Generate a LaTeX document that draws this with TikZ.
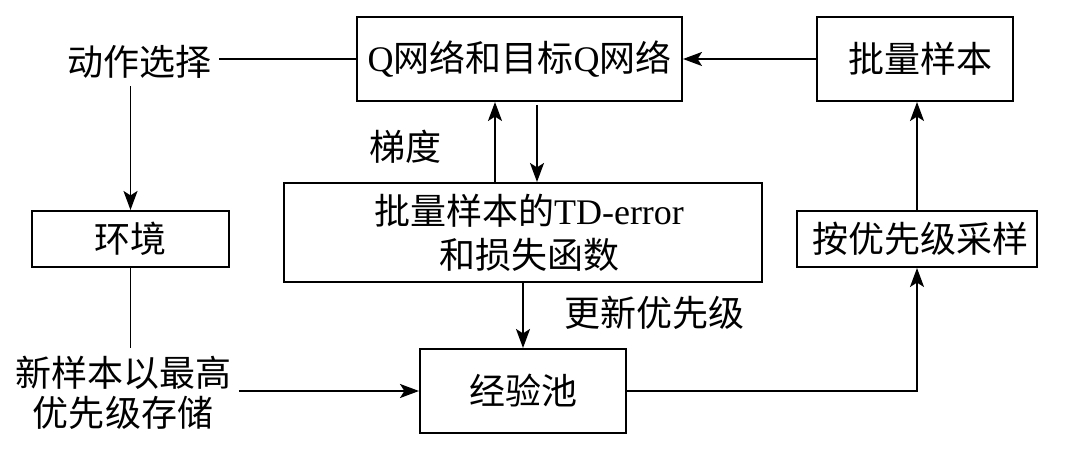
\documentclass[tikz,border=0pt]{standalone}
\usepackage{fontspec}
\setmainfont{Liberation Serif}
\newfontfamily\cjk{Noto Sans CJK SC}
\usetikzlibrary{arrows.meta}

\begin{document}
\begin{tikzpicture}[
    x=0.5pt, y=-0.5pt,
    font=\fontsize{18}{22}\selectfont,
    line width=0.9pt,
    box/.style 2 args={draw, line width=1pt, minimum width=#1, minimum height=#2,
                       inner sep=0pt, align=center},
    lbl/.style={inner sep=3.5pt, align=center},
    arr/.style={-{Stealth[length=9.5pt, width=7pt, inset=2.2pt]}}
]
\useasboundingbox (0,0) rectangle (1085,458);

% boxes
\node[box={162.5pt}{42pt}]   (q)     at (519.5,59)  {Q{\cjk 网络和目标}Q{\cjk 网络}};
\node[box={98pt}{42pt}]      (batch) at (915,59)    {\hspace{5pt}{\cjk 批量样本}};
\node[box={98.5pt}{28pt}]    (env)   at (130.5,239) {{\cjk 环境}};
\node[box={239pt}{49.5pt}]   (td)    at (523,232.5) {\hspace{6pt}{\cjk 批量样本的}TD-error\\\hspace{6pt}{\cjk 和损失函数}};
\node[box={120pt}{28pt}]     (prio)  at (917,239)   {\hspace{3pt}{\cjk 按优先级采样}};
\node[box={103pt}{42pt}]     (pool)  at (523,391)   {{\cjk 经验池}};

% free labels
\node[lbl] (act)   at (139,62)  {{\cjk 动作选择}};
\node[lbl] (grad)  at (405,147) {{\cjk 梯度}};
\node[lbl] (upd)   at (654,313) {{\cjk 更新优先级}};
\node[lbl, font=\fontsize{18}{20}\selectfont]
           (store) at (123,393) {{\cjk 新样本以最高}\\{\cjk 优先级存储}};

% connectors
\draw (q.west) -- (q.west -| act.east);
\draw[arr] (act.south -| env.north) -- (env.north);
\draw (env.south) -- (env.south |- store.north);
\draw[arr] (store.east |- pool.west) -- (pool.west);
\draw[arr] ([xshift=-14pt]td.north) -- ([xshift=-14pt]td.north |- q.south);
\draw[arr, shorten <=1.5pt] ([xshift=7pt]td.north |- q.south) -- ([xshift=7pt]td.north);
\draw[arr] (td.south) -- (pool.north);
\draw[arr] (pool.east) -- (pool.east -| prio.south) -- (prio.south);
\draw[arr] (prio.north) -- (prio.north |- batch.south);
\draw[arr] (batch.west) -- (q.east);
\end{tikzpicture}
\end{document}
